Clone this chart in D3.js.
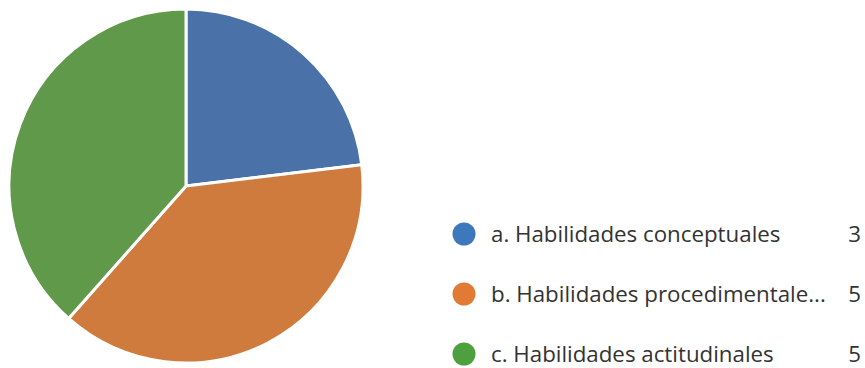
<!DOCTYPE html>
<html><head><meta charset="utf-8">
<script src="https://cdn.jsdelivr.net/npm/d3@7"></script>
<style>html,body{margin:0;padding:0;background:#fff;}svg{display:block;}</style>
</head><body>
<svg id="c" width="865" height="368"></svg>
<script>
const categories = ["a. Habilidades conceptuales", "b. Habilidades procedimentale...", "c. Habilidades actitudinales"];
const values = [3, 5, 5];
const sliceColors = ["#4a72a9", "#cf7b3d", "#61994a"];
const dotColors = ["#3d78bd", "#e07a35", "#4e9f3e"];

const svg = d3.select("#c");
const cx = 186, cy = 186, r = 177;
const pie = d3.pie().sort(null).value(d => d)(values);
const arc = d3.arc().innerRadius(0).outerRadius(r);
svg.append("g").attr("transform", `translate(${cx},${cy})`)
  .selectAll("path").data(pie).join("path")
  .attr("d", arc).attr("fill", (d,i) => sliceColors[i])
  .attr("stroke", "#fff").attr("stroke-width", 3).attr("stroke-linejoin", "round");

const y = d3.scalePoint().domain(categories).range([234, 354]);
const lg = svg.append("g");
const rows = lg.selectAll("g").data(categories).join("g")
  .attr("transform", d => `translate(0,${y(d)})`);
rows.append("circle").attr("cx", 464).attr("cy", 0).attr("r", 11.5)
  .attr("fill", (d,i) => dotColors[i]);
rows.append("text").attr("x", 491).attr("y", 0).attr("dy", "0.35em")
  .attr("font-family", "'Open Sans', sans-serif").attr("font-size", 22.3).attr("fill", "#333")
  .text(d => d);
rows.append("text").attr("x", 861).attr("y", 0).attr("dy", "0.35em").attr("text-anchor", "end")
  .attr("font-family", "'Open Sans', sans-serif").attr("font-size", 22.3).attr("fill", "#333")
  .text((d,i) => values[i]);
</script>
</body></html>
